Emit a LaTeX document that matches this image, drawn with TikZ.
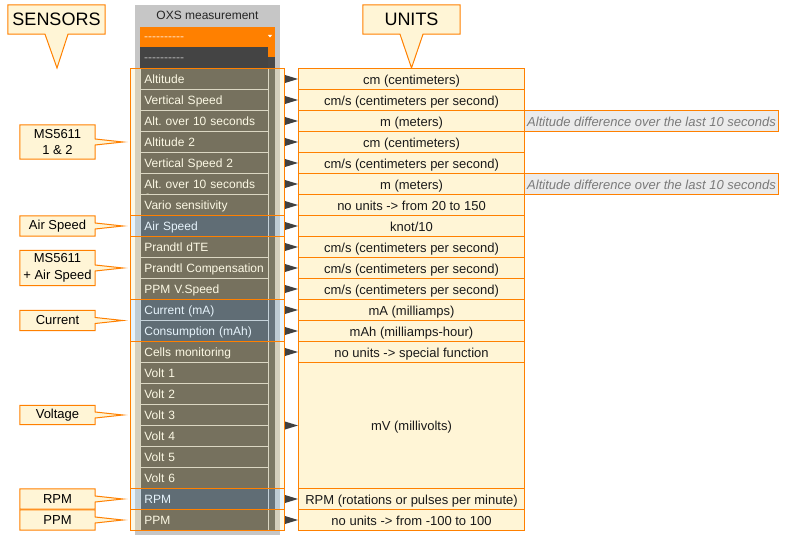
\documentclass[tikz,border=0pt]{standalone}
\usepackage{fontspec}
\setmainfont{Liberation Sans}[Ligatures=TeXOff]
\usetikzlibrary{calc,backgrounds}
\definecolor{orng}{HTML}{FF8000}
\definecolor{cream}{HTML}{FFF5D6}
\definecolor{panelgray}{HTML}{C6C6C6}
\definecolor{rowgray}{HTML}{3E3E3E}
\definecolor{darkrow}{HTML}{444444}
\definecolor{scrollgray}{HTML}{474747}
\definecolor{ovyellow}{RGB}{248,234,169}
\definecolor{ovblue}{RGB}{175,218,245}
\definecolor{sep}{HTML}{CFCFCF}
\definecolor{notegray}{HTML}{EBEBEB}
\definecolor{notetext}{HTML}{7A7A7A}
\definecolor{arrowc}{HTML}{404040}
\tikzset{
  base/.style={font=\fontsize{12bp}{14bp}\selectfont, inner sep=0pt},
  plainbox/.style={inner sep=0pt, anchor=north west},
  rowbox/.style={base, fill=rowgray, draw=sep, line width=0.8bp, minimum height=21bp,
    text width=120bp, inner xsep=4bp, anchor=west, align=left, text=white,
    text height=10bp, text depth=0bp},
  unitbox/.style={font=\fontsize{13bp}{15bp}\selectfont, inner sep=0pt, fill=cream, draw=orng,
    line width=1bp, minimum width=226bp, minimum height=21bp, anchor=north west,
    text=black!90, text height=10.5bp, text depth=0bp},
  notebox/.style={unitbox, fill=notegray, minimum width=254bp,
    font=\fontsize{13bp}{15bp}\selectfont\itshape, text=notetext},
  grpY/.style={draw=orng, line width=1bp, fill=ovyellow, fill opacity=0.3, draw opacity=1,
    minimum width=154bp, anchor=north west, inner sep=0pt},
  grpB/.style={grpY, fill=ovblue},
  calltext/.style={font=\fontsize{13bp}{16.5bp}\selectfont, inner sep=0pt, minimum width=75bp,
    align=center, text=black},
  bigcall/.style={font=\fontsize{18bp}{20bp}\selectfont, inner sep=0pt, minimum width=97bp,
    minimum height=29bp, text=black},
  callshape/.style={fill=cream, draw=orng, line width=1bp, line join=miter},
  tipmark/.style={fill=arrowc},
}
\begin{document}
\frenchspacing
\begin{tikzpicture}[x=1bp,y=-1bp]
\useasboundingbox (0,0) rectangle (785,540);
% panel
\node[plainbox, fill=panelgray, minimum width=145bp, minimum height=530bp] (panel) at (135,5) {};
\node[base, text=black!85] (title) at (207.5,15.5) {OXS measurement};
\node[plainbox, fill=orng, minimum width=135bp, minimum height=20bp] (dd) at (140,27) {};
\node[base, anchor=base west, text=white!80!orng] (ddtext) at (144,41) {----------};
\fill[white] (268,35) -- (272,35) -- (270,37.5) -- cycle;
\node[plainbox, fill=darkrow, minimum width=128bp, minimum height=21bp] (blank) at (140,47) {};
\node[base, anchor=base west, text=white!72!black] (blanktext) at (144,62) {----------};
\fill[scrollgray] (268,57) rectangle (275,530);
\fill[orng] (268,47) rectangle (275,57);
% rows
\foreach \t [count=\i from 0] in {Altitude, Vertical Speed, Alt. over 10 seconds, Altitude 2,
  Vertical Speed 2, Alt. over 10 seconds 2, Vario sensitivity, Air Speed, Prandtl dTE,
  Prandtl Compensation, PPM V.Speed, Current (mA), Consumption (mAh), Cells monitoring,
  Volt 1, Volt 2, Volt 3, Volt 4, Volt 5, Volt 6, RPM, PPM}
  { \node[rowbox] (r\i) at (140, 78.5+21*\i) {\t}; }
% group overlays
\node[grpY, minimum height=147bp] (gMS) at (130,68) {};
\node[grpB, minimum height=21bp] (gAS) at (130,215) {};
\node[grpY, minimum height=63bp] (gMA) at (130,236) {};
\node[grpB, minimum height=42bp] (gCur) at (130,299) {};
\node[grpY, minimum height=147bp] (gVolt) at (130,341) {};
\node[grpB, minimum height=21bp] (gRPM) at (130,488) {};
\node[grpY, minimum height=21bp] (gPPM) at (130,509) {};
% units
\foreach \i/\t in {0/{cm (centimeters)}, 1/{cm/s (centimeters per second)}, 2/{m (meters)},
  3/{cm (centimeters)}, 4/{cm/s (centimeters per second)}, 5/{m (meters)},
  6/{no units -> from 20 to 150}, 7/{knot/10}, 8/{cm/s (centimeters per second)},
  9/{cm/s (centimeters per second)}, 10/{cm/s (centimeters per second)}, 11/{mA (milliamps)},
  12/{mAh (milliamps-hour)}, 13/{no units -> special function},
  20/{RPM (rotations or pulses per minute)}, 21/{no units -> from -100 to 100}}
  { \node[unitbox] (u\i) at (298, 68+21*\i) {\t}; }
\node[unitbox, minimum height=126bp] (uV) at (298,362) {mV (millivolts)};
% notes
\node[notebox] (n2) at (524,110) {Altitude difference over the last 10 seconds};
\node[notebox] (n5) at (524,173) {Altitude difference over the last 10 seconds};
% arrows
\foreach \u in {u0,u1,u2,u3,u4,u5,u6,u7,u8,u9,u10,u11,u12,u13,uV,u20,u21}
  { \fill[tipmark] ($(\u.west)+(-13,-4)$) -- (\u.west) -- ($(\u.west)+(-13,4)$) -- cycle; }
% top callouts
\node[bigcall] (sensors) at (56.5,19.5) {SENSORS};
\coordinate (sensorsTip) at (57,68);
\node[bigcall] (units) at (411.5,19.5) {UNITS};
\begin{pgfonlayer}{background}
\draw[callshape] (sensors.north west) -- (sensors.north east) -- (sensors.south east)
  -- ($(sensors.south)+(11.5,0)$) -- (sensorsTip) -- ($(sensors.south)+(-11.5,0)$)
  -- (sensors.south west) -- cycle;
\draw[callshape] (units.north west) -- (units.north east) -- (units.south east)
  -- ($(units.south)+(11.5,0)$) -- (u0.north) -- ($(units.south)+(-11.5,0)$)
  -- (units.south west) -- cycle;
\end{pgfonlayer}
% left callouts
\foreach \nm/\g/\h/\txt in {cMS/gMS/34/{MS5611\\1 \& 2}, cAS/gAS/20/{Air Speed},
  cMA/gMA/35/{MS5611\\+ Air Speed}, cCur/gCur/20/{Current}, cVolt/gVolt/19/{Voltage},
  cRPM/gRPM/20/{RPM}, cPPM/gPPM/20/{PPM}}
{
  \node[calltext, minimum height=\h bp] (\nm) at ($(\g.west)+(-72.5,0)$) {\txt};
  \begin{pgfonlayer}{background}
  \draw[callshape] (\nm.north west) -- (\nm.north east) -- ($(\nm.east)+(0,-3)$)
    -- ($(\g.west)+(-7,0)$) -- ($(\nm.east)+(0,3)$) -- (\nm.south east)
    -- (\nm.south west) -- cycle;
  \end{pgfonlayer}
}
\end{tikzpicture}
\end{document}
